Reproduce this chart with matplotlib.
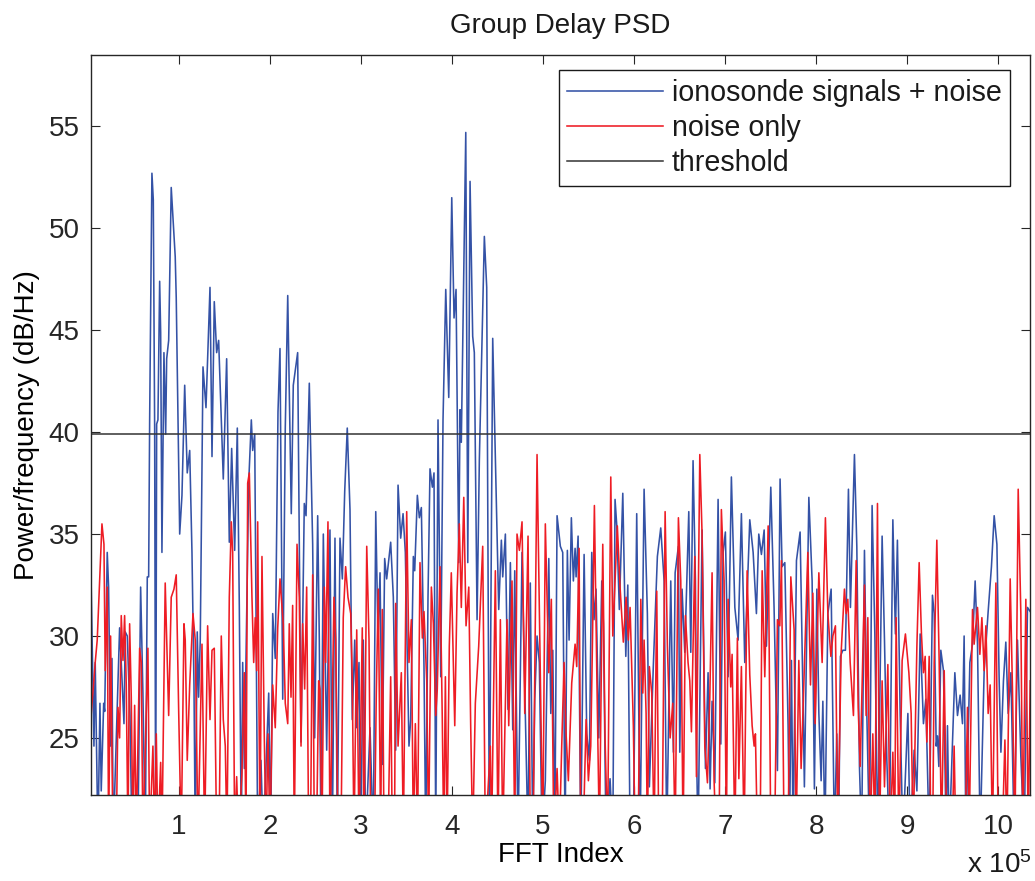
import numpy as np
import matplotlib
matplotlib.use('Agg')
import matplotlib.pyplot as plt

# (FFT index in units of 1e5, power in dB/Hz); 20 = dips that go below the axis
blue_trace = [
    (0.036, 32.4), (0.066, 24.6), (0.080, 28.7), (0.110, 20), (0.132, 26.7), (0.146, 22.4), (0.173, 26.7),
    (0.184, 26.3), (0.212, 34.1), (0.227, 32.4), (0.249, 24.6), (0.264, 28.9), (0.278, 20), (0.348, 30.4),
    (0.366, 28.7), (0.396, 25.7), (0.410, 30.2), (0.432, 30.0), (0.462, 26.1), (0.484, 20), (0.549, 20),
    (0.579, 32.4), (0.604, 27.2), (0.630, 20), (0.652, 32.9), (0.667, 32.9), (0.678, 40.6), (0.703, 52.7),
    (0.718, 51.4), (0.733, 40.2), (0.744, 20), (0.755, 40.4), (0.769, 40.6), (0.788, 47.4), (0.799, 44.9),
    (0.813, 34.1), (0.835, 43.9), (0.854, 39.9), (0.865, 43.6), (0.887, 44.5), (0.915, 52.0), (0.959, 48.6),
    (0.970, 46.6), (1.008, 35.0), (1.033, 36.9), (1.063, 42.3), (1.091, 38.0), (1.118, 39.1), (1.143, 34.1),
    (1.165, 27.6), (1.179, 20), (1.201, 30.2), (1.216, 27.0), (1.234, 29.8), (1.264, 43.2), (1.297, 41.2),
    (1.341, 47.1), (1.363, 38.8), (1.388, 46.4), (1.414, 43.9), (1.436, 44.5), (1.487, 37.7), (1.524, 43.6),
    (1.553, 34.6), (1.579, 39.2), (1.612, 34.2), (1.641, 40.2), (1.663, 31.5), (1.685, 20), (1.700, 28.7),
    (1.718, 23.5), (1.766, 37.5), (1.795, 40.6), (1.810, 39.1), (1.832, 39.9), (1.865, 20), (1.901, 23.9),
    (1.926, 20), (1.986, 27.2), (2.008, 20), (2.030, 31.1), (2.058, 28.9), (2.088, 41.0), (2.110, 44.1),
    (2.140, 26.9), (2.168, 40.2), (2.195, 46.7), (2.234, 36.0), (2.256, 42.3), (2.304, 43.9), (2.341, 24.8),
    (2.377, 36.5), (2.396, 35.9), (2.432, 42.4), (2.469, 34.5), (2.491, 25.0), (2.524, 35.9), (2.542, 29.8),
    (2.560, 20), (2.586, 35.0), (2.623, 24.4), (2.659, 35.2), (2.685, 20), (2.714, 34.8), (2.740, 20),
    (2.769, 34.8), (2.795, 32.8), (2.821, 37.1), (2.849, 40.2), (2.879, 36.2), (2.904, 25.9), (2.931, 29.8),
    (2.953, 25.5), (2.978, 28.7), (2.997, 20), (3.025, 29.8), (3.052, 20), (3.099, 25.5), (3.135, 20),
    (3.162, 36.1), (3.187, 29.8), (3.209, 33.1), (3.234, 23.7), (3.260, 33.8), (3.282, 32.8), (3.326, 34.6),
    (3.355, 31.9), (3.381, 24.4), (3.407, 37.4), (3.436, 34.8), (3.462, 36.0), (3.487, 34.1), (3.527, 24.6),
    (3.546, 25.9), (3.575, 33.9), (3.590, 33.2), (3.619, 36.9), (3.641, 35.8), (3.663, 36.3), (3.692, 28.5),
    (3.711, 20), (3.736, 31.9), (3.758, 38.2), (3.784, 37.3), (3.802, 38.0), (3.821, 20), (3.846, 40.6),
    (3.876, 28.0), (3.901, 40.6), (3.931, 47.0), (3.964, 41.7), (3.997, 51.5), (4.022, 45.6), (4.044, 47.0),
    (4.074, 33.6), (4.088, 41.1), (4.102, 39.5), (4.151, 54.7), (4.173, 33.6), (4.198, 52.3), (4.227, 44.7),
    (4.245, 43.9), (4.275, 30.8), (4.300, 38.6), (4.355, 49.6), (4.381, 47.1), (4.410, 20), (4.447, 44.6),
    (4.513, 31.3), (4.542, 34.7), (4.557, 32.9), (4.586, 35.0), (4.615, 26.4), (4.641, 33.6), (4.667, 25.4),
    (4.689, 33.2), (4.725, 20), (4.769, 34.1), (4.805, 26.2), (4.835, 20), (4.860, 32.6), (4.887, 20),
    (4.909, 26.9), (4.934, 30.0), (4.959, 28.7), (4.989, 20), (5.025, 22.9), (5.063, 33.8), (5.085, 26.2),
    (5.107, 29.3), (5.129, 20), (5.154, 35.9), (5.190, 34.4), (5.216, 34.1), (5.242, 20), (5.267, 34.2),
    (5.286, 29.8), (5.311, 35.8), (5.333, 32.7), (5.352, 34.3), (5.363, 32.9), (5.385, 34.9), (5.414, 20),
    (5.451, 34.0), (5.480, 25.2), (5.509, 23.9), (5.535, 34.1), (5.560, 30.8), (5.582, 32.3), (5.612, 25.0),
    (5.645, 32.7), (5.663, 30.6), (5.692, 20), (5.736, 23.0), (5.766, 20), (5.791, 36.7), (5.810, 35.4),
    (5.838, 31.3), (5.876, 37.0), (5.909, 29.0), (5.931, 32.5), (5.956, 20), (5.992, 20), (6.029, 36.0),
    (6.066, 20), (6.110, 37.2), (6.146, 31.1), (6.168, 22.6), (6.212, 28.6), (6.256, 33.9), (6.293, 35.3),
    (6.330, 32.7), (6.359, 20), (6.403, 32.7), (6.432, 24.3), (6.451, 33.1), (6.487, 34.4), (6.502, 24.3),
    (6.527, 32.3), (6.557, 29.2), (6.601, 36.1), (6.623, 29.2), (6.648, 38.6), (6.674, 32.7), (6.689, 23.6),
    (6.703, 20), (6.747, 35.2), (6.784, 23.5), (6.813, 28.2), (6.835, 22.5), (6.857, 26.8), (6.887, 22.8),
    (6.923, 36.7), (6.953, 24.7), (6.978, 34.1), (7.003, 35.1), (7.033, 28.0), (7.069, 37.8), (7.107, 31.4),
    (7.143, 29.8), (7.179, 36.0), (7.216, 28.7), (7.271, 35.7), (7.308, 34.1), (7.344, 31.1), (7.370, 35.0),
    (7.399, 34.0), (7.429, 35.2), (7.454, 29.5), (7.502, 37.3), (7.538, 31.4), (7.575, 23.4), (7.604, 37.7),
    (7.626, 33.4), (7.656, 33.6), (7.692, 25.6), (7.707, 20), (7.729, 28.8), (7.747, 20), (7.784, 33.7),
    (7.824, 35.1), (7.854, 27.4), (7.871, 22.6), (7.920, 36.8), (7.956, 32.7), (7.981, 22.5), (8.008, 32.3),
    (8.030, 26.2), (8.055, 22.9), (8.074, 26.8), (8.096, 20), (8.129, 31.1), (8.165, 32.3), (8.201, 20),
    (8.227, 25.2), (8.247, 20), (8.267, 29.0), (8.293, 29.3), (8.322, 29.3), (8.355, 37.2), (8.377, 31.4),
    (8.421, 38.9), (8.447, 34.4), (8.476, 23.6), (8.500, 20), (8.531, 34.2), (8.557, 26.2), (8.586, 20),
    (8.615, 36.4), (8.645, 30.1), (8.678, 20), (8.725, 34.9), (8.751, 29.8), (8.777, 23.9), (8.805, 20),
    (8.843, 35.7), (8.871, 30.1), (8.893, 34.7), (8.923, 26.2), (8.953, 20), (9.008, 26.2), (9.033, 20),
    (9.077, 24.4), (9.107, 22.4), (9.143, 30.1), (9.179, 25.7), (9.205, 26.9), (9.242, 20), (9.278, 32.0),
    (9.297, 31.1), (9.319, 24.6), (9.333, 25.1), (9.348, 23.6), (9.370, 29.3), (9.399, 28.3), (9.429, 20),
    (9.443, 25.6), (9.462, 20), (9.487, 23.3), (9.524, 28.2), (9.553, 26.1), (9.582, 27.1), (9.608, 25.7),
    (9.626, 30.0), (9.645, 20), (9.689, 28.7), (9.718, 29.6), (9.747, 32.7), (9.773, 29.6), (9.802, 20),
    (9.846, 28.3), (9.890, 31.2), (9.926, 33.4), (9.956, 35.9), (9.986, 34.5), (10.011, 27.8), (10.030, 24.3),
    (10.058, 27.8), (10.084, 29.7), (10.110, 26.2), (10.140, 28.2), (10.176, 20), (10.212, 29.8),
    (10.249, 24.1), (10.286, 20), (10.322, 31.4), (10.352, 31.2),
]

red_trace = [
    (0.033, 26.0), (0.080, 28.7), (0.102, 29.8), (0.154, 35.5), (0.176, 34.5), (0.190, 28.3), (0.212, 32.4),
    (0.227, 20), (0.249, 30.0), (0.275, 20), (0.311, 20), (0.330, 26.5), (0.348, 25.0), (0.366, 31.0),
    (0.385, 28.8), (0.403, 31.0), (0.421, 27.6), (0.440, 20), (0.458, 30.6), (0.476, 27.0), (0.495, 20),
    (0.513, 26.6), (0.531, 20), (0.568, 29.4), (0.586, 28.7), (0.604, 20), (0.659, 29.4), (0.678, 20),
    (0.714, 24.6), (0.733, 20), (0.751, 25.2), (0.769, 20), (0.799, 23.8), (0.813, 20), (0.849, 32.6),
    (0.887, 26.1), (0.915, 31.9), (0.945, 32.3), (0.970, 33.0), (0.997, 26.3), (1.025, 20), (1.055, 30.6),
    (1.069, 29.8), (1.091, 23.9), (1.118, 27.6), (1.154, 31.1), (1.179, 29.8), (1.209, 20), (1.253, 29.6),
    (1.282, 20), (1.315, 30.5), (1.341, 25.9), (1.363, 29.3), (1.388, 29.4), (1.414, 20), (1.440, 20),
    (1.465, 30.0), (1.487, 25.9), (1.509, 24.6), (1.527, 20), (1.553, 31.9), (1.575, 35.6), (1.590, 34.1),
    (1.612, 20), (1.634, 23.1), (1.654, 20), (1.692, 23.3), (1.718, 28.2), (1.736, 20), (1.755, 37.5),
    (1.773, 38.0), (1.802, 31.9), (1.821, 28.7), (1.838, 30.9), (1.854, 28.3), (1.865, 35.6), (1.890, 20),
    (1.912, 33.9), (1.937, 25.2), (1.956, 20), (1.978, 25.2), (2.000, 20), (2.030, 27.6), (2.058, 25.5),
    (2.085, 30.4), (2.110, 32.8), (2.124, 31.9), (2.146, 30.6), (2.168, 26.7), (2.195, 25.7), (2.212, 30.6),
    (2.231, 27.0), (2.249, 31.5), (2.267, 20), (2.297, 34.5), (2.322, 31.9), (2.341, 24.6), (2.359, 30.6),
    (2.381, 27.4), (2.403, 32.4), (2.425, 20), (2.445, 20), (2.469, 33.0), (2.487, 20), (2.511, 20),
    (2.535, 27.8), (2.549, 27.4), (2.571, 20), (2.597, 32.4), (2.612, 28.7), (2.637, 35.6), (2.659, 20),
    (2.674, 23.9), (2.703, 31.9), (2.722, 29.8), (2.747, 20), (2.780, 20), (2.805, 30.9), (2.831, 33.4),
    (2.857, 31.9), (2.887, 31.1), (2.904, 27.8), (2.923, 20), (2.953, 30.3), (2.978, 20), (3.014, 30.4),
    (3.033, 20), (3.063, 34.4), (3.088, 29.8), (3.107, 20), (3.148, 20), (3.168, 27.2), (3.190, 32.3),
    (3.216, 20), (3.234, 31.3), (3.253, 20), (3.297, 20), (3.326, 28.0), (3.344, 20), (3.368, 20),
    (3.381, 31.6), (3.407, 24.6), (3.443, 28.2), (3.465, 20), (3.502, 36.1), (3.527, 28.7), (3.553, 30.8),
    (3.575, 20), (3.597, 25.7), (3.621, 20), (3.648, 33.6), (3.674, 29.9), (3.692, 31.2), (3.722, 27.8),
    (3.742, 20), (3.773, 32.4), (3.795, 30.6), (3.821, 26.1), (3.838, 27.4), (3.868, 33.4), (3.893, 25.9),
    (3.909, 20), (3.927, 28.0), (3.945, 20), (3.970, 29.5), (3.992, 33.1), (4.030, 25.6), (4.055, 32.1),
    (4.080, 35.5), (4.102, 31.4), (4.129, 36.8), (4.154, 30.5), (4.184, 32.4), (4.205, 25.6), (4.227, 20),
    (4.256, 26.7), (4.293, 29.5), (4.337, 34.4), (4.366, 20), (4.421, 24.6), (4.434, 20), (4.476, 33.2),
    (4.505, 20), (4.531, 30.8), (4.557, 20), (4.604, 30.8), (4.623, 25.6), (4.659, 32.7), (4.689, 20),
    (4.714, 35.0), (4.740, 34.2), (4.769, 35.6), (4.799, 26.2), (4.835, 34.9), (4.860, 20), (4.890, 20),
    (4.934, 38.9), (4.970, 28.2), (4.997, 20), (5.025, 35.5), (5.063, 28.2), (5.091, 31.8), (5.118, 20),
    (5.154, 23.5), (5.179, 20), (5.205, 24.6), (5.231, 28.7), (5.253, 25.2), (5.278, 22.9), (5.315, 27.7),
    (5.352, 29.6), (5.370, 28.5), (5.396, 34.3), (5.414, 20), (5.440, 20), (5.473, 25.9), (5.498, 22.9),
    (5.524, 24.6), (5.542, 29.5), (5.564, 36.4), (5.590, 28.3), (5.619, 20), (5.656, 34.5), (5.681, 25.0),
    (5.709, 20), (5.744, 37.8), (5.766, 30.0), (5.791, 32.7), (5.816, 35.4), (5.846, 32.4), (5.882, 29.7),
    (5.912, 31.9), (5.937, 29.8), (5.956, 31.4), (5.992, 25.6), (6.011, 20), (6.044, 20), (6.074, 31.8),
    (6.096, 27.2), (6.110, 29.8), (6.132, 26.2), (6.146, 20), (6.168, 28.5), (6.194, 27.2), (6.220, 20),
    (6.249, 32.2), (6.271, 20), (6.308, 20), (6.341, 36.1), (6.366, 29.5), (6.396, 25.0), (6.425, 26.7),
    (6.451, 20), (6.487, 35.8), (6.513, 32.7), (6.538, 20), (6.564, 31.0), (6.593, 28.7), (6.612, 27.8),
    (6.630, 25.3), (6.667, 33.9), (6.685, 23.1), (6.722, 38.9), (6.747, 35.0), (6.777, 24.6), (6.806, 22.8),
    (6.832, 27.0), (6.857, 33.1), (6.879, 22.9), (6.901, 20), (6.934, 20), (6.959, 36.2), (6.989, 32.7),
    (7.014, 20), (7.033, 31.8), (7.062, 27.5), (7.077, 29.1), (7.107, 20), (7.135, 29.9), (7.151, 23.0),
    (7.179, 28.5), (7.209, 20), (7.242, 33.2), (7.271, 28.1), (7.297, 25.6), (7.319, 24.6), (7.333, 25.2),
    (7.355, 20), (7.385, 20), (7.407, 33.2), (7.436, 28.0), (7.473, 35.4), (7.502, 20), (7.544, 20),
    (7.575, 30.8), (7.601, 30.5), (7.619, 33.7), (7.648, 20), (7.692, 20), (7.722, 32.9), (7.758, 30.3),
    (7.780, 20), (7.810, 28.8), (7.835, 23.5), (7.860, 26.9), (7.909, 34.1), (7.938, 27.6), (7.964, 32.1),
    (7.989, 25.7), (8.030, 33.1), (8.066, 28.7), (8.102, 35.8), (8.129, 31.1), (8.162, 29.0), (8.184, 30.0),
    (8.212, 30.5), (8.238, 20), (8.275, 29.2), (8.311, 32.3), (8.330, 31.1), (8.348, 31.8), (8.374, 28.7),
    (8.410, 26.1), (8.440, 33.7), (8.462, 26.5), (8.484, 23.6), (8.531, 32.5), (8.549, 26.1), (8.568, 30.9),
    (8.593, 20), (8.623, 25.2), (8.645, 20), (8.674, 36.5), (8.696, 20), (8.725, 27.8), (8.751, 22.6),
    (8.788, 28.6), (8.813, 20), (8.843, 24.3), (8.863, 20), (8.879, 30.9), (8.909, 20), (8.945, 28.8),
    (8.981, 30.1), (9.019, 28.2), (9.044, 26.2), (9.066, 20), (9.107, 29.5), (9.132, 33.6), (9.157, 30.1),
    (9.179, 28.2), (9.198, 29.0), (9.216, 24.8), (9.242, 29.0), (9.260, 20), (9.280, 20), (9.297, 28.7),
    (9.326, 34.7), (9.352, 28.7), (9.377, 20), (9.407, 28.3), (9.436, 20), (9.495, 20), (9.516, 24.6),
    (9.535, 20), (9.637, 20), (9.663, 26.5), (9.681, 20), (9.718, 31.3), (9.736, 29.6), (9.773, 31.4),
    (9.799, 29.1), (9.821, 30.9), (9.846, 28.3), (9.865, 30.5), (9.890, 26.2), (9.912, 27.6), (9.937, 20),
    (9.975, 32.6), (10.000, 20), (10.044, 20), (10.074, 24.9), (10.096, 20), (10.132, 32.8), (10.157, 27.4),
    (10.184, 20), (10.220, 37.2), (10.249, 31.1), (10.271, 20), (10.304, 31.8), (10.330, 20), (10.352, 27.8),
]

threshold = 39.9
tick_labels = ['1', '2', '3', '4', '5', '6', '7', '8', '9', '10']

plt.rcParams['font.family'] = ['Liberation Sans', 'DejaVu Sans']
plt.rcParams['mathtext.fontset'] = 'custom'
plt.rcParams['mathtext.rm'] = 'Liberation Sans'
plt.rcParams['mathtext.it'] = 'Liberation Sans'
plt.rcParams['text.color'] = '#1a1a1a'

blue = np.array(blue_trace)
red = np.array(red_trace)

fig = plt.figure(figsize=(10.35, 8.81), dpi=100)
ax = fig.add_axes([0.0876, 0.0976, 0.9076, 0.840])

ax.plot(blue[:, 0] * 1e5, blue[:, 1], color='#3452a6', lw=1.15, label='ionosonde signals + noise')
ax.plot(red[:, 0] * 1e5, red[:, 1], color='#ee1c24', lw=1.15, label='noise only')
ax.axhline(threshold, color='#333333', lw=1.1, label='threshold')

ax.set_xlim(3e3, 1.035e6)
ax.set_ylim(22.2, 58.5)
ax.set_xticks(np.arange(1, 11) * 1e5)
ax.set_xticklabels(tick_labels)
ax.set_yticks(np.arange(25, 56, 5))
ax.tick_params(axis='both', direction='in', length=6.5, width=0.8, top=True, right=True,
               labelsize=20, colors='#262626')
ax.tick_params(axis='x', pad=14)
ax.tick_params(axis='y', pad=8)
for s in ax.spines.values():
    s.set_linewidth(1.0)
    s.set_color('#262626')

ax.set_title('Group Delay PSD', fontsize=20, pad=16)
ax.set_xlabel('FFT Index', fontsize=20, labelpad=1)
ax.set_ylabel('Power/frequency (dB/Hz)', fontsize=20, labelpad=6)
fig.text(1032 / 1035, 0.009, r'x 10$^5$', fontsize=20, ha='right', va='baseline')

leg = ax.legend(loc='upper right', bbox_to_anchor=(0.9787, 0.9797), borderaxespad=0,
                fontsize=20.6, handlelength=3.35, handletextpad=0.3, labelspacing=0.26,
                borderpad=0.3, fancybox=False, framealpha=1, edgecolor='#1a1a1a')
leg.get_frame().set_linewidth(1.0)

fig.savefig('out.png', dpi=100)
